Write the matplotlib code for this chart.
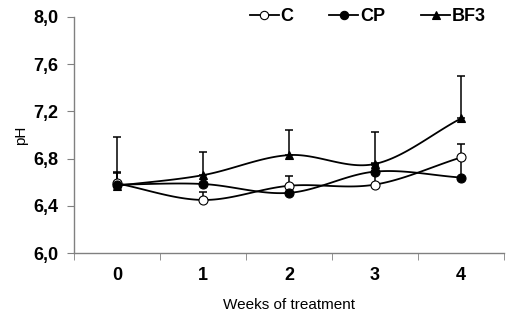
import numpy as np
import matplotlib
matplotlib.use("Agg")
import matplotlib.pyplot as plt
from matplotlib.lines import Line2D

plt.rcParams['font.family'] = ['Liberation Sans', 'DejaVu Sans']

weeks = [0, 1, 2, 3, 4]
week_labels = ['0', '1', '2', '3', '4']

c_mean = [6.59, 6.45, 6.57, 6.58, 6.81]
c_err = [0.09, 0.07, 0.08, 0.18, 0.11]
cp_mean = [6.58, 6.585, 6.51, 6.69, 6.64]
cp_err = [0.11, 0.0, 0.0, 0.06, 0.17]
bf3_mean = [6.57, 6.66, 6.83, 6.755, 7.14]
bf3_err = [0.41, 0.20, 0.21, 0.27, 0.36]


def smooth(x, y, n=30):
    # excel-like smoothed line (catmull-rom through the points)
    x = np.asarray(x, float)
    y = np.asarray(y, float)
    px = np.concatenate([[2 * x[0] - x[1]], x, [2 * x[-1] - x[-2]]])
    py = np.concatenate([[2 * y[0] - y[1]], y, [2 * y[-1] - y[-2]]])
    xs, ys = [], []
    t = np.linspace(0, 1, n)
    for i in range(1, len(px) - 2):
        for p, out in ((px, xs), (py, ys)):
            p0, p1, p2, p3 = p[i - 1], p[i], p[i + 1], p[i + 2]
            out.extend(0.5 * ((2 * p1) + (-p0 + p2) * t
                              + (2 * p0 - 5 * p1 + 4 * p2 - p3) * t ** 2
                              + (-p0 + 3 * p1 - 3 * p2 + p3) * t ** 3))
    return xs, ys


fig = plt.figure(figsize=(5.1, 3.14), dpi=100)
ax = fig.add_axes([0.145, 0.194, 0.843, 0.752])

series = [
    (c_mean, c_err, 'o', 'white', 'C'),
    (cp_mean, cp_err, 'o', 'black', 'CP'),
    (bf3_mean, bf3_err, '^', 'black', 'BF3'),
]

handles = []
for mean, err, m, fc, name in series:
    ax.errorbar(weeks, mean, yerr=[np.zeros(len(err)), err], fmt='none',
                ecolor='black', elinewidth=1.1, capsize=3, capthick=1.1, zorder=2)
    sx, sy = smooth(weeks, mean)
    ax.plot(sx, sy, color='black', lw=1.3, zorder=3)
    ax.plot(weeks, mean, linestyle='none', marker=m, ms=6.5 if m == 'o' else 6,
            mfc=fc, mec='black', mew=0.8, zorder=4)
    handles.append(Line2D([], [], color='black', lw=1.3, marker=m, ms=6 if m == 'o' else 5.5,
                          mfc=fc, mec='black', mew=0.8, label=name))

ax.set_xlim(-0.5, 4.5)
ax.set_ylim(6.0, 8.0)
ax.set_yticks(np.arange(6.0, 8.01, 0.4))
ax.set_yticklabels([('%.1f' % v).replace('.', ',') for v in np.arange(6.0, 8.01, 0.4)],
                   fontsize=13, fontweight='bold')
ax.set_xticks(weeks)
ax.set_xticklabels(week_labels, fontsize=13, fontweight='bold')
ax.tick_params(axis='x', which='major', length=0, pad=10)
ax.set_xticks(np.arange(-0.5, 4.6, 1.0), minor=True)
ax.tick_params(axis='x', which='minor', length=5, color='#808080')
ax.tick_params(axis='y', length=5, color='#808080', pad=6)

for s in ['top', 'right']:
    ax.spines[s].set_visible(False)
for s in ['left', 'bottom']:
    ax.spines[s].set_color('#808080')
    ax.spines[s].set_linewidth(1.0)

ax.set_ylabel('pH', fontsize=11, labelpad=4)
ax.set_xlabel('Weeks of treatment', fontsize=11, labelpad=10)

leg = fig.legend(handles=handles, loc='upper right', bbox_to_anchor=(0.985, 1.025), ncol=3,
                 frameon=False, handlelength=1.6, handletextpad=0.1, columnspacing=2.0,
                 prop={'size': 13, 'weight': 'bold'})

fig.savefig('out.png', dpi=100)
